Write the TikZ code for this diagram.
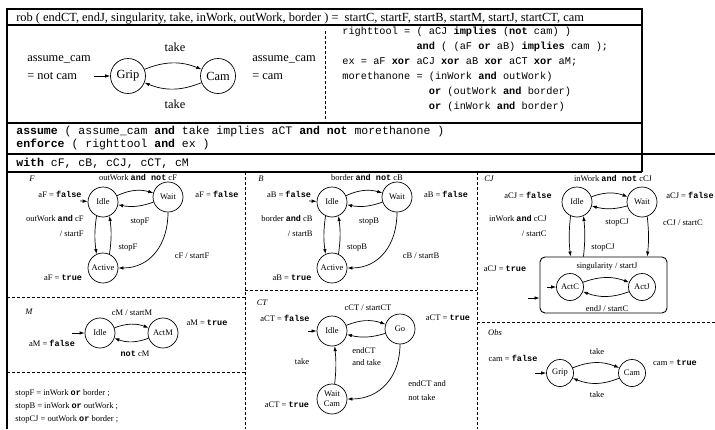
\documentclass[tikz,border=0pt]{standalone}
\usepackage{fontspec}
\setmainfont{Liberation Serif}
\setmonofont{Liberation Mono}
\usetikzlibrary{arrows.meta, positioning}

\newcommand{\kw}[1]{\texttt{\textbf{#1}}}
\newcommand{\titlefont}{\fontsize{12.4}{14}\selectfont}
\newcommand{\codefont}{\fontsize{10.3}{15}\selectfont\ttfamily}
\newcommand{\specfont}{\fontsize{11.5}{13}\selectfont\ttfamily}
\newcommand{\panelfont}{\fontsize{8.5}{10}\selectfont}

\tikzset{
  every picture/.style={line width=0.7pt},
  frame/.style={line width=1.9pt},
  divider/.style={line width=0.7pt, dash pattern=on 3pt off 2pt},
  bigstate/.style={circle, draw, minimum size=35pt, inner sep=0pt, font=\titlefont},
  state/.style={circle, draw, minimum size=30pt, inner sep=0pt, font=\panelfont},
  smallstate/.style={state, minimum size=27pt},
  trans/.style={-{Latex[length=5pt, width=3.5pt]}},
  lab/.style={font=\panelfont, inner sep=0pt},
  biglab/.style={font=\titlefont, inner sep=0pt},
  tag/.style={font=\panelfont\itshape, inner sep=0pt},
}

% one tool: Idle / Wait / Active
\newcommand{\toolpanel}[3]{
  \begin{scope}[xshift=#1pt]
    \node[tag] (tag#2) at (32,179) {#2};
    \node[state] (idle#2) at (103,202) {Idle};
    \node[state] (wait#2) at (168,197) {Wait};
    \node[state] (active#2) at (103,268) {Active};
    \coordinate (start#2) at (80,201);
    \draw[trans] (start#2) -- (idle#2);
    \draw[trans] (idle#2) to[bend left=20] (wait#2);
    \draw[trans] (wait#2) to[bend left=15] (idle#2);
    \draw[trans] (idle#2.245) to[bend right=8] (active#2.115);
    \draw[trans] (active#2.65) to[bend right=8] (idle#2.295);
    \draw[trans] (wait#2.south) to[out=-90, in=0, looseness=1.1] (active#2.east);
    \node[lab] (ask#2) at (138,177) {#3 \kw{and not} c#2};
    \node[lab] (idleout#2) at (60,194) {a#2 = \kw{false}};
    \node[lab] (waitout#2) at (217,194) {a#2 = \kw{false}};
    \node[lab, align=right, anchor=east] (grab#2) at (84,226) {#3 \kw{and} c#2\\[5pt] / start#2};
    \node[lab] (halt#2) at (140,222) {stop#2};
    \node[lab] (drop#2) at (128,248) {stop#2};
    \node[lab] (late#2) at (192,256) {c#2 / start#2};
    \node[lab] (activeout#2) at (63,278) {a#2 = \kw{true}};
  \end{scope}
}

\begin{document}
\begin{tikzpicture}[x=1pt, y=-1pt]
  \useasboundingbox (0,0) rectangle (715,429);
  % frame
  \draw[frame] (642,172) -- (642,9) -- (7,9) -- (7,429);
  \draw[frame] (7,25) -- (642,25) (7,123) -- (642,123) (7,154) -- (715,154) (7,172) -- (642,172);
  \node[biglab, anchor=base west] (signature) at (16,21) {rob ( endCT, endJ, singularity, take, inWork, outWork, border ) = \ startC, startF, startB, startM, startJ, startCT, cam};

  % observer
  \node[bigstate] (grip) at (128,76) {Grip};
  \node[bigstate] (cam) at (218,76) {Cam};
  \coordinate (gripstart) at (94,76);
  \draw[trans] (gripstart) -- (grip);
  \draw[trans] (grip) to[bend left=22] (cam);
  \draw[trans] (cam) to[bend left=22] (grip);
  \node[biglab] (takeup) at (175,47) {take};
  \node[biglab] (takedown) at (175,104) {take};
  \node[biglab, anchor=west, align=left] (gripout) at (27,68) {assume\_cam\\[4pt]= not cam};
  \node[biglab, anchor=west, align=left] (camout) at (252,68) {assume\_cam\\[4pt]= cam};
  \draw[divider] (325,31) -- (325,121);
  \node[font=\codefont, anchor=north west, align=left, inner sep=0pt] (defs) at (342,27) {%
    righttool = ( aCJ \textbf{implies} (\textbf{not} cam) )\\
    \phantom{righttool = }\textbf{and} ( (aF \textbf{or} aB) \textbf{implies} cam );\\
    ex = aF \textbf{xor} aCJ \textbf{xor} aB \textbf{xor} aCT \textbf{xor} aM;\\
    morethanone = (inWork \textbf{and} outWork)\\
    \phantom{morethanone = }\textbf{or} (outWork \textbf{and} border)\\
    \phantom{morethanone = }\textbf{or} (inWork \textbf{and} border)};

  % contract
  \node[font=\specfont, anchor=base west, inner sep=0pt] (assume) at (16,134) {\textbf{assume} ( assume\_cam \textbf{and} take implies aCT \textbf{and not} morethanone )};
  \node[font=\specfont, anchor=base west, inner sep=0pt] (enforce) at (16,147) {\textbf{enforce} ( righttool \textbf{and} ex )};
  \node[font=\specfont, anchor=base west, inner sep=0pt] (with) at (16,166) {\textbf{with} cF, cB, cCJ, cCT, cM};

  % panels
  \draw[divider] (245,172) -- (245,429) (477,172) -- (477,429);
  \draw[divider] (7,297) -- (245,297) (7,372) -- (245,372);
  \draw[divider] (245,290) -- (477,290);
  \draw[divider] (477,322) -- (715,322);

  \toolpanel{0}{F}{outWork}
  \toolpanel{229}{B}{border}

  % CJ
  \node[tag] (tagCJ) at (489,179) {CJ};
  \node[state] (idleCJ) at (577,202) {Idle};
  \node[state] (waitCJ) at (642,202) {Wait};
  \node[draw, rounded corners=5pt, minimum width=127pt, minimum height=56pt, line width=0.9pt] (armCJ) at (603.5,285) {};
  \node[smallstate] (actC) at (570,287) {ActC};
  \node[smallstate] (actJ) at (642,287) {ActJ};
  \coordinate (startC) at (547,287);
  \coordinate (startArm) at (528,298);
  \draw[trans] (startC) -- (actC);
  \draw[trans] (startArm) -- (armCJ.west |- startArm);
  \draw[trans] (idleCJ) to[bend left=20] (waitCJ);
  \draw[trans] (waitCJ) to[bend left=15] (idleCJ);
  \draw[trans] (idleCJ.245) to[bend right=6] (armCJ.north -| idleCJ.245);
  \draw[trans] (armCJ.north -| idleCJ.295) to[bend right=6] (idleCJ.295);
  \draw[trans] (waitCJ.290) to[bend left=6] (armCJ.north -| waitCJ.290);
  \draw[trans] (actC) to[bend left=20] (actJ);
  \draw[trans] (actJ) to[bend left=20] (actC);
  \node[lab] (askCJ) at (613,178) {inWork \kw{and not} cCJ};
  \node[lab] (idleoutCJ) at (528,195) {aCJ = \kw{false}};
  \node[lab] (waitoutCJ) at (690,195) {aCJ = \kw{false}};
  \node[lab, align=right, anchor=east] (grabCJ) at (547,226) {inWork \kw{and} cCJ\\[5pt] / startC};
  \node[lab] (haltCJ) at (617,223) {stopCJ};
  \node[lab] (lateCJ) at (683,223) {cCJ / startC};
  \node[lab] (dropCJ) at (603,248) {stopCJ};
  \node[lab] (armoutCJ) at (505,269) {aCJ = \kw{true}};
  \node[lab] (singCJ) at (607,266) {singularity / startJ};
  \node[lab] (backCJ) at (607,309) {endJ / startC};

  % M
  \node[tag] (tagM) at (29,312) {M};
  \node[state] (idleM) at (100,333) {Idle};
  \node[state] (actM) at (163,333) {ActM};
  \coordinate (startM) at (72,333);
  \draw[trans] (startM) -- (idleM);
  \draw[trans] (idleM) to[bend left=20] (actM);
  \draw[trans] (actM) to[bend left=20] (idleM);
  \node[lab] (goM) at (132,313) {cM / startM};
  \node[lab] (backM) at (135,354) {\kw{not} cM};
  \node[lab] (actoutM) at (207,323) {aM = \kw{true}};
  \node[lab] (idleoutM) at (52,343) {aM = \kw{false}};
  \node[lab, anchor=west] (stopdefF) at (15,393) {stopF = inWork \kw{or} border ;};
  \node[lab, anchor=west] (stopdefB) at (15,406) {stopB = inWork \kw{or} outWork ;};
  \node[lab, anchor=west] (stopdefCJ) at (15,419) {stopCJ = outWork \kw{or} border ;};

  % CT
  \node[tag] (tagCT) at (262,303) {CT};
  \node[state] (idleCT) at (332,331) {Idle};
  \node[state] (goCT) at (400,329) {Go};
  \node[state, align=center] (waitCT) at (332,399) {Wait\\Cam};
  \coordinate (startCT) at (308,331);
  \draw[trans] (startCT) -- (idleCT);
  \draw[trans] (idleCT) to[bend left=20] (goCT);
  \draw[trans] (goCT) to[bend left=15] (idleCT);
  \draw[trans] (waitCT.80) to[bend right=6] (idleCT.280);
  \draw[trans] (goCT.south) to[out=-90, in=0, looseness=1.1] (waitCT.east);
  \node[lab] (goCTlab) at (368,308) {cCT / startCT};
  \node[lab, align=left, anchor=west] (backCT) at (352,357) {endCT\\[2pt]and take};
  \node[lab] (takeCT) at (302,362) {take};
  \node[lab, align=left, anchor=west] (lateCT) at (408,391) {endCT and\\[4pt]not take};
  \node[lab] (idleoutCT) at (285,318) {aCT = \kw{false}};
  \node[lab] (gooutCT) at (448,318) {aCT = \kw{true}};
  \node[lab] (waitoutCT) at (287,405) {aCT = \kw{true}};

  % Obs
  \node[tag] (tagObs) at (495,333) {Obs};
  \node[smallstate] (gripObs) at (560,373) {Grip};
  \node[smallstate] (camObs) at (632,373) {Cam};
  \coordinate (startObs) at (535,373);
  \draw[trans] (startObs) -- (gripObs);
  \draw[trans] (gripObs) to[bend left=22] (camObs);
  \draw[trans] (camObs) to[bend left=22] (gripObs);
  \node[lab] (takeupObs) at (597,352) {take};
  \node[lab] (takedownObs) at (597,395) {take};
  \node[lab] (idleoutObs) at (513,358) {cam = \kw{false}};
  \node[lab] (camoutObs) at (675,363) {cam = \kw{true}};
\end{tikzpicture}
\end{document}
